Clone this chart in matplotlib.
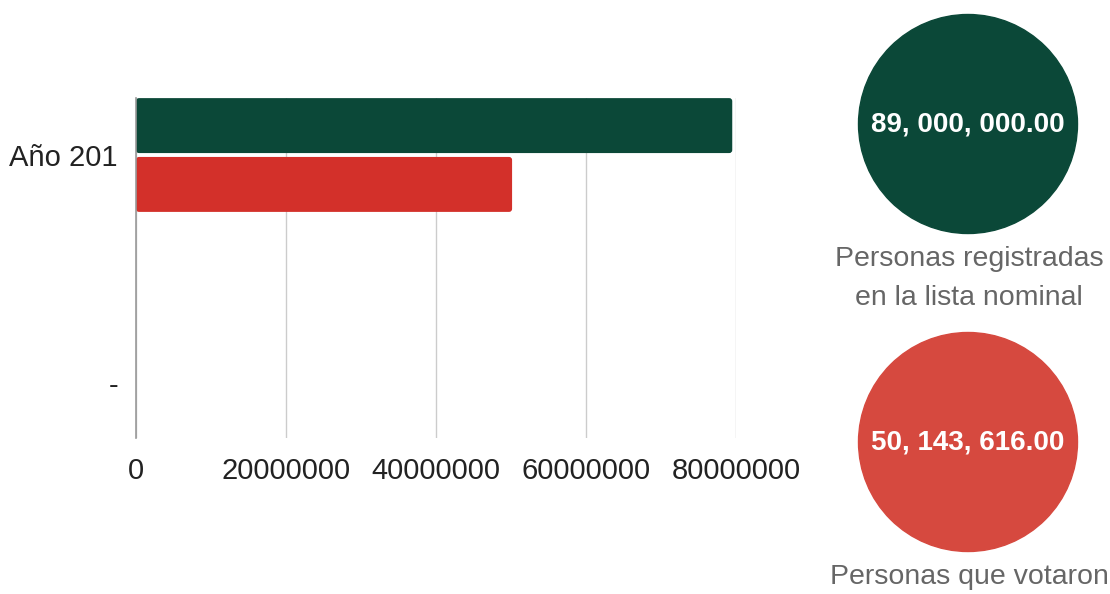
import matplotlib
matplotlib.use("Agg")
import matplotlib.pyplot as plt
from matplotlib.patches import Circle, FancyBboxPatch

# ---- data ----
categories = ["Año 201", "-"]
registrados = [79500000, 0]      # bar series 1 (green)
votaron = [50143616, 0]          # bar series 2 (red)
xticks = [0, 20000000, 40000000, 60000000, 80000000]
circle_values = [89000000, 50143616]
circle_labels = ["Personas registradas\nen la lista nominal", "Personas que votaron"]

GREEN = "#0b4838"
RED_BAR = "#d3302a"
RED_CIRCLE = "#d6493f"
GRID = "#cccccc"
TEXT_GRAY = "#666666"

plt.rcParams["font.family"] = ["Liberation Sans", "DejaVu Sans"]

W, H = 1110, 594
fig = plt.figure(figsize=(W / 100, H / 100), dpi=100)

# bar chart axes (pixel box: x 136..736, y 98..438)
ax = fig.add_axes([136 / W, 1 - 438 / H, 600 / W, 340 / H])
pos = list(range(len(categories)))
bh = 0.241
off = 0.129
bars1 = ax.barh([p - off for p in pos], registrados, height=bh, color=GREEN, zorder=3)
bars2 = ax.barh([p + off for p in pos], votaron, height=bh, color=RED_BAR, zorder=3)

ax.set_xlim(0, 80000000)
ax.set_ylim(1.241, -0.25)

# replace rectangles with slightly rounded boxes
xpp = 80000000 / 600.0
ypp = 1.491 / 340.0
for bars in (bars1, bars2):
    for r in bars:
        x0, y0 = r.get_x(), r.get_y()
        w, h = r.get_width(), r.get_height()
        if w <= 0:
            r.set_visible(False)
            continue
        fb = FancyBboxPatch((x0, y0), w, h,
                            boxstyle="round,pad=0,rounding_size=%f" % (3 * xpp),
                            mutation_aspect=ypp / xpp,
                            facecolor=r.get_facecolor(), edgecolor="none", zorder=3)
        ax.add_patch(fb)
        r.set_visible(False)

ax.set_xticks(xticks)
ax.set_xticklabels([str(t) for t in xticks])
ax.set_yticks(pos)
ax.set_yticklabels(categories)
ax.tick_params(axis="both", length=0, labelsize=21, colors="#222222")
ax.tick_params(axis="x", pad=14)
ax.tick_params(axis="y", pad=13)
ax.grid(axis="x", color=GRID, linewidth=1, zorder=0)
for s in ["top", "right", "bottom"]:
    ax.spines[s].set_visible(False)
ax.spines["left"].set_color("#999999")
ax.spines["left"].set_linewidth(1.2)
ax.spines["left"].set_zorder(4)

# overlay axes in pixel coordinates for the circles
ov = fig.add_axes([0, 0, 1, 1])
ov.set_xlim(0, W)
ov.set_ylim(H, 0)
ov.axis("off")
centers = [(968, 124), (968, 442)]
colors = [GREEN, RED_CIRCLE]
for (cx, cy), col, val, lab in zip(centers, colors, circle_values, circle_labels):
    ov.add_patch(Circle((cx, cy), 109.5, color=col, zorder=2))
    txt = "{:,.2f}".format(val).replace(",", ", ")
    ov.text(cx, cy + 1, txt, ha="center", va="center", color="white",
            fontsize=20, fontweight="bold", zorder=3)
    ov.text(cx + 1, cy + 122, lab, ha="center", va="top", color=TEXT_GRAY,
            fontsize=20.5, linespacing=1.65, zorder=3)

fig.savefig("out.png", dpi=100)
